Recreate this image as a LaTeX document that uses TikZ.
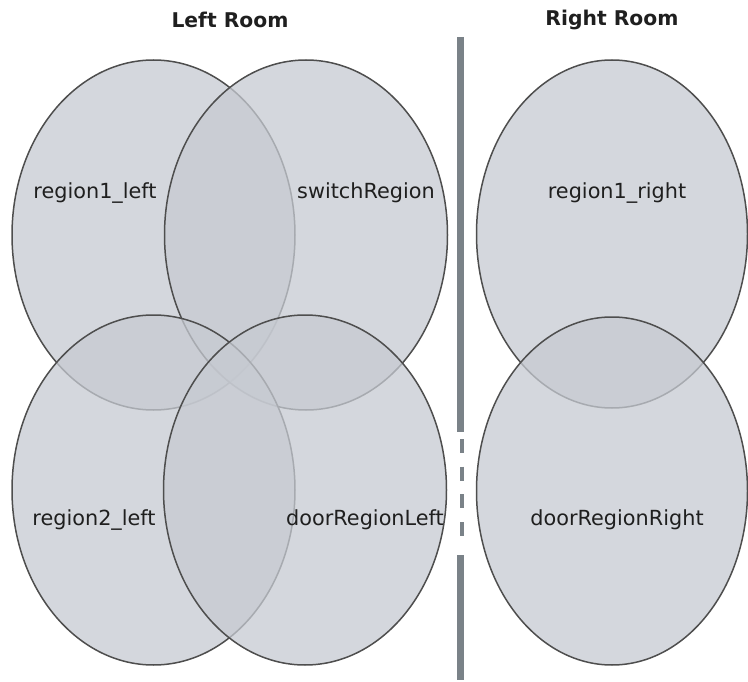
\documentclass[tikz,border=0pt]{standalone}
\usepackage{fontspec}
\setmainfont{DejaVu Sans}
\usetikzlibrary{shapes.geometric}
\definecolor{regfill}{RGB}{198,202,209}
\definecolor{regline}{RGB}{78,78,78}
\definecolor{wallcol}{RGB}{122,130,136}
\tikzset{
  region/.style={ellipse, draw=regline, line width=1.5pt, fill=regfill, fill opacity=0.75, draw opacity=1, inner sep=0pt, minimum width=283pt, minimum height=350pt},
  regionR/.style={region, minimum width=271pt, minimum height=348pt},
  lbl/.style={font=\fontsize{20.8}{24}\selectfont, text=black!88, inner sep=0pt},
  ttl/.style={font=\fontsize{20.3}{24}\selectfont\bfseries, text=black!88, inner sep=0pt},
  wallsolid/.style={draw=wallcol, line width=7pt},
  walldash/.style={draw=wallcol, line width=4pt, dash pattern=on 14pt off 13.7pt}
}
\begin{document}
\begin{tikzpicture}[x=1pt,y=-1pt]
\useasboundingbox (0,0) rectangle (748,682);
\node[region] (r1l) at (153.5,235) {};
\node[region] (sw) at (306,235) {};
\node[region] (r2l) at (153.5,490) {};
\node[region] (drl) at (305,490) {};
\node[regionR] (r1r) at (612,234) {};
\node[regionR] (drr) at (612,491) {};
\node[lbl] (t1) at (95,193) {region1\_left};
\node[lbl] (t2) at (366,193) {switchRegion};
\node[lbl] (t3) at (617,193) {region1\_right};
\node[lbl] (t4) at (94,520) {region2\_left};
\node[lbl] (t5) at (365,520) {doorRegionLeft};
\node[lbl] (t6) at (617,520) {doorRegionRight};
\node[ttl] (hl) at (230,19.5) {Left Room};
\node[ttl] (hr) at (612,19.5) {Right Room};
\coordinate (w1) at (460.5,37);
\coordinate (w2) at (460.5,432);
\coordinate (d1) at (461.8,439);
\coordinate (d2) at (461.8,546);
\coordinate (w3) at (460.5,555);
\coordinate (w4) at (460.5,680);
\draw[wallsolid] (w1) -- (w2);
\draw[walldash] (d1) -- (d2);
\draw[wallsolid] (w3) -- (w4);
\end{tikzpicture}
\end{document}
